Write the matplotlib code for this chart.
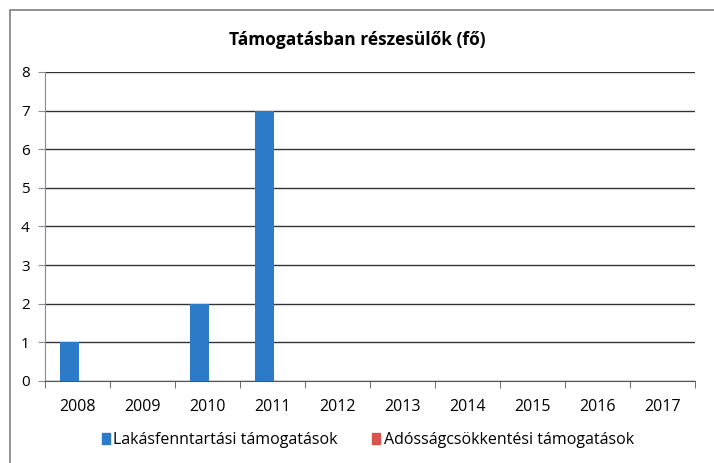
import matplotlib
matplotlib.use("Agg")
import matplotlib.pyplot as plt
import numpy as np
from matplotlib.patches import Rectangle

years = ["2008", "2009", "2010", "2011", "2012", "2013", "2014", "2015", "2016", "2017"]
lakas = [1, 0, 2, 7, 0, 0, 0, 0, 0, 0]
adossag = [0, 0, 0, 0, 0, 0, 0, 0, 0, 0]
series_names = ["Lakásfenntartási támogatások", "Adósságcsökkentési támogatások"]
title = "Támogatásban részesülők (fő)"

plt.rcParams['font.family'] = ['Open Sans', 'DejaVu Sans']

W, H = 714, 463
fig = plt.figure(figsize=(W/100, H/100), dpi=100)
fig.patch.set_facecolor("white")

# outer chart border
fig.add_artist(Rectangle((10/W, -0.01), 1.0, 1 - 10/H + 0.01, transform=fig.transFigure,
                         fill=False, edgecolor="#7f7f7f", linewidth=1.2))

ax = fig.add_axes([45/W, 1 - 381/H, 650/W, (381-72)/H])
x = np.arange(len(years))
w = 1/3.5
ax.bar(x - w/2 + 0.02, lakas, width=w, color="#2b7bc8", zorder=3)
ax.bar(x + w/2 + 0.02, adossag, width=w, color="#d9534f", zorder=3)

ax.set_xlim(-0.5, len(years) - 0.5)
ax.set_ylim(0, 8)
ax.set_yticks(range(0, 9))
ax.yaxis.grid(True, color="#333333", linewidth=1.0, zorder=0)
ax.set_axisbelow(True)
for s in ["top", "right"]:
    ax.spines[s].set_visible(False)
ax.spines["left"].set_color("#8a8a9a")
ax.spines["bottom"].set_color("#555555")
ax.set_xticks(x)
ax.set_xticklabels(years, fontsize=11.5)
ax.tick_params(axis="x", length=0, pad=13)
ax.set_xticks(np.arange(-0.5, len(years)), minor=True)
ax.tick_params(axis="x", which="minor", length=5, color="#555555")
ax.tick_params(axis="y", length=5, color="#8a8a9a", labelsize=11, pad=6)

fig.text(0.5, 1 - 40/H, title, ha="center", va="center", fontsize=12.5, fontweight="bold")

handles = [Rectangle((0, 0), 1, 1, color="#2b7bc8"), Rectangle((0, 0), 1, 1, color="#d9534f")]
fig.legend(handles, series_names, loc="center", bbox_to_anchor=(0.515, 1 - 440/H), ncol=2,
           frameon=False, fontsize=11.5, handlelength=0.5, handleheight=0.7,
           handletextpad=0.2, columnspacing=2.2)

fig.savefig("out.png", dpi=100)
